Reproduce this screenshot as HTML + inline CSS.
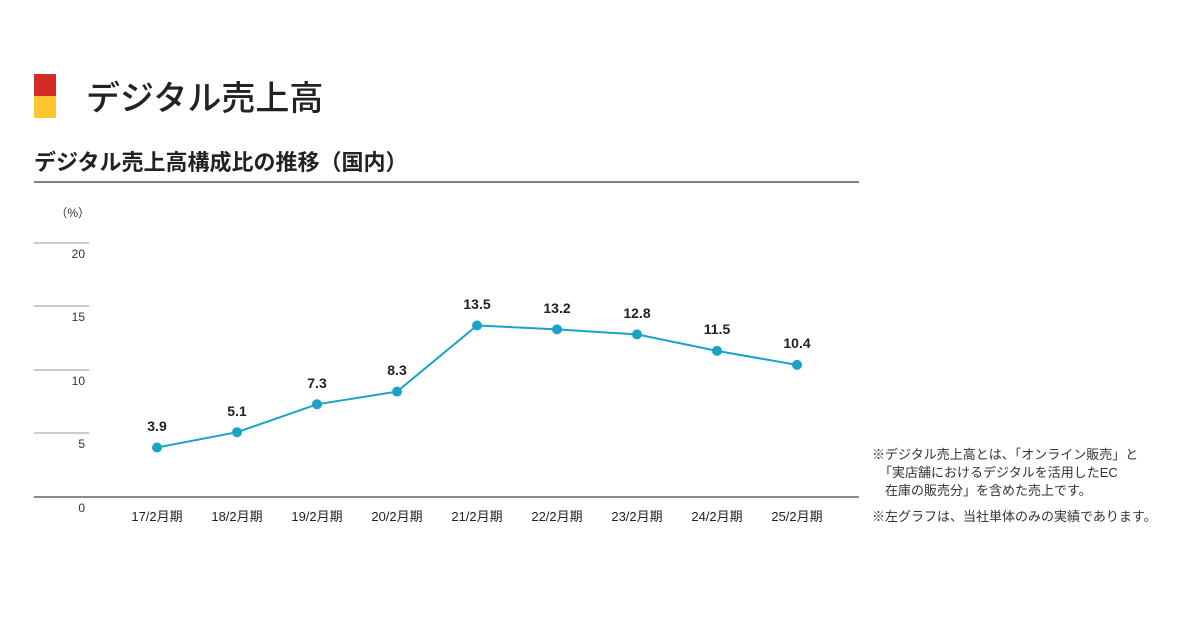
<!DOCTYPE html>
<html><head><meta charset="utf-8"><style>
body{margin:0;width:1200px;height:630px;background:#fff;overflow:hidden;font-family:"Liberation Sans","Noto Sans CJK JP",sans-serif;}
</style></head><body>
<svg width="1200" height="630" xmlns="http://www.w3.org/2000/svg" style="position:absolute;left:0;top:0;font-family:'Liberation Sans','Noto Sans CJK JP',sans-serif">
<rect x="34" y="74" width="22" height="22" fill="#d42a26"/>
<rect x="34" y="96" width="22" height="22" fill="#fcc72e"/>
<text x="86" y="110" font-size="34" font-weight="500" fill="#222">デジタル売上高</text>
<text x="34" y="170" font-size="22" font-weight="bold" fill="#222">デジタル売上高構成比の推移（国内）</text>
<line x1="34" y1="182" x2="859" y2="182" stroke="#555" stroke-width="1.5"/>
<text x="90" y="217" font-size="12" fill="#333" text-anchor="end">（%）</text>
<g stroke="#999" stroke-width="1">
<line x1="34" y1="243" x2="89" y2="243"/><line x1="34" y1="306" x2="89" y2="306"/>
<line x1="34" y1="370" x2="89" y2="370"/><line x1="34" y1="433" x2="89" y2="433"/>
</g>
<line x1="34" y1="497" x2="859" y2="497" stroke="#666" stroke-width="1.5"/>
<g font-size="12" fill="#333" text-anchor="end">
<text x="85" y="258">20</text><text x="85" y="321">15</text><text x="85" y="385">10</text><text x="85" y="448">5</text><text x="85" y="512">0</text>
</g>
<polyline fill="none" stroke="#1aa3c4" stroke-width="2" points="157,447.5 237,432.2 317,404.3 397,391.6 477,325.5 557,329.4 637,334.4 717,350.9 797,364.9"/>
<g fill="#1aa3c4">
<circle cx="157" cy="447.5" r="5"/><circle cx="237" cy="432.2" r="5"/><circle cx="317" cy="404.3" r="5"/><circle cx="397" cy="391.6" r="5"/><circle cx="477" cy="325.5" r="5"/><circle cx="557" cy="329.4" r="5"/><circle cx="637" cy="334.4" r="5"/><circle cx="717" cy="350.9" r="5"/><circle cx="797" cy="364.9" r="5"/>
</g>
<g font-size="14" font-weight="bold" fill="#222" text-anchor="middle">
<text x="157" y="431">3.9</text><text x="237" y="416">5.1</text><text x="317" y="388">7.3</text><text x="397" y="375">8.3</text><text x="477" y="309">13.5</text><text x="557" y="313">13.2</text><text x="637" y="318">12.8</text><text x="717" y="334">11.5</text><text x="797" y="348">10.4</text>
</g>
<g font-size="13" fill="#222" text-anchor="middle">
<text x="157" y="521">17/2月期</text><text x="237" y="521">18/2月期</text><text x="317" y="521">19/2月期</text><text x="397" y="521">20/2月期</text><text x="477" y="521">21/2月期</text><text x="557" y="521">22/2月期</text><text x="637" y="521">23/2月期</text><text x="717" y="521">24/2月期</text><text x="797" y="521">25/2月期</text>
</g>
<g font-size="13" fill="#333">
<text x="872" y="459">※デジタル売上高とは、「オンライン販売」と</text>
<text x="879" y="477">「実店舗におけるデジタルを活用したEC</text>
<text x="885" y="495">在庫の販売分」を含めた売上です。</text>
<text x="872" y="521">※左グラフは、当社単体のみの実績であります。</text>
</g>
</svg>
</body></html>
